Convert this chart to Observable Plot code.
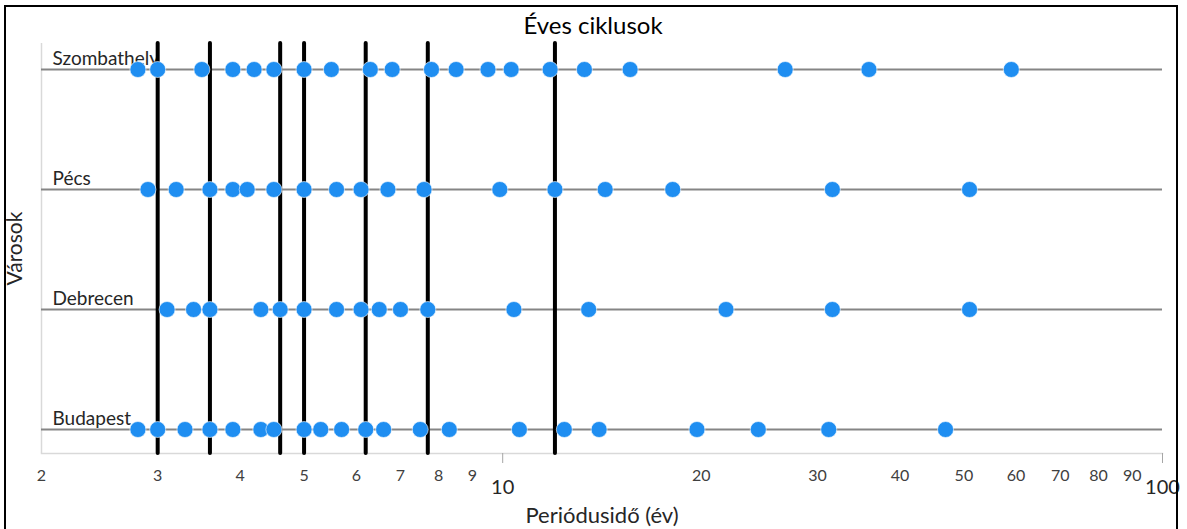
<!DOCTYPE html>
<html>
<head>
<meta charset="utf-8">
<script src="https://cdn.jsdelivr.net/npm/d3@7"></script>
<script src="https://cdn.jsdelivr.net/npm/@observablehq/plot@0.6"></script>
<style>
  html, body { margin: 0; padding: 0; background: #fff; overflow: hidden; }
  #wrap { position: relative; width: 1187px; height: 529px; }
  #border { position: absolute; left: 4px; top: 5px; width: 1174px; height: 540px; border: 2px solid #000; box-sizing: border-box; pointer-events: none; }
  #chart { position: absolute; left: 0; top: 0; }
</style>
</head>
<body>
<div id="wrap">
  <div id="chart"></div>
  <div id="border"></div>
</div>
<script>
// Cities, top to bottom
const cities = ["Szombathely", "Pécs", "Debrecen", "Budapest"];

// Detected cycle periods (years) for each city
const szombathely = [2.8, 3.0, 3.5, 3.9, 4.2, 4.5, 5.0, 5.5, 6.3, 6.8, 7.8, 8.5, 9.5, 10.3, 11.8, 13.3, 15.6, 26.8, 35.9, 59.0];
const pecs = [2.9, 3.2, 3.6, 3.9, 4.1, 4.5, 5.0, 5.6, 6.1, 6.7, 7.6, 9.9, 12.0, 14.3, 18.1, 31.6, 51.0];
const debrecen = [3.1, 3.4, 3.6, 4.3, 4.6, 5.0, 5.6, 6.1, 6.5, 7.0, 7.7, 10.4, 13.5, 21.8, 31.6, 51.0];
const budapest = [2.8, 3.0, 3.3, 3.6, 3.9, 4.3, 4.5, 5.0, 5.3, 5.7, 6.2, 6.6, 7.5, 8.3, 10.6, 12.4, 14.0, 19.7, 24.4, 31.2, 46.9];

// Cycles common to all cities (vertical reference lines)
const commonCycles = [3.0, 3.6, 4.6, 5.0, 6.2, 7.7, 12.0];

// Axis tick labels
const minorTicks = [2, 3, 4, 5, 6, 7, 8, 9, 20, 30, 40, 50, 60, 70, 80, 90];
const decadeTicks = [10, 100];

const seriesByCity = {
  "Szombathely": szombathely,
  "Pécs": pecs,
  "Debrecen": debrecen,
  "Budapest": budapest
};
const points = cities.flatMap(city => seriesByCity[city].map(period => ({city, period})));

const chart = Plot.plot({
  width: 1187,
  height: 529,
  marginLeft: 41,
  marginRight: 25,
  marginTop: 43,
  marginBottom: 76,
  style: {fontFamily: "Lato, 'Open Sans', sans-serif", background: "transparent", color: "#262626"},
  x: {type: "log", domain: [2, 100]},
  y: {type: "point", domain: cities, range: [68, 429], padding: 0, axis: null},
  marks: [
    // plot area edges
    Plot.ruleX([2], {stroke: "#d9d9d9", strokeWidth: 1.5}),
    Plot.frame({anchor: "bottom", stroke: "#d9d9d9", strokeWidth: 1.5}),
    // one baseline per city
    Plot.ruleY(cities, {y: d => d, stroke: "#858585", strokeWidth: 2}),
    Plot.text(cities, {x: () => 2, y: d => d, text: d => d, textAnchor: "start", dx: 11, dy: -11, fontSize: 19, fill: "#262626"}),
    // shared cycles
    Plot.ruleX(commonCycles, {stroke: "#000", strokeWidth: 4, strokeLinecap: "round"}),
    // per-city cycles
    Plot.dot(points, {x: "period", y: "city", r: 8, fill: "#1f8ef1", stroke: "#fff", strokeWidth: 0.6}),
    // x axis: tick marks at decades, labels for every tick
    Plot.axisX(decadeTicks, {tickSize: 10, tickFormat: () => "", label: null, stroke: "#a6a6a6"}),
    Plot.text(minorTicks, {x: d => d, frameAnchor: "bottom", lineAnchor: "middle", dy: 22, fontSize: 16, fill: "#404040", text: d => String(d)}),
    Plot.text(decadeTicks, {x: d => d, frameAnchor: "bottom", lineAnchor: "middle", dy: 34, fontSize: 20, fill: "#262626", text: d => String(d)}),
    // titles
    Plot.text(["Éves ciklusok"], {frameAnchor: "top", lineAnchor: "middle", dx: -9, dy: -17, fontSize: 24, fill: "#000"}),
    Plot.text(["Periódusidő (év)"], {frameAnchor: "bottom", lineAnchor: "middle", dy: 62, fontSize: 22, fill: "#262626"}),
    Plot.text(["Városok"], {frameAnchor: "left", textAnchor: "middle", lineAnchor: "middle", dx: -26, rotate: -90, fontSize: 21, fill: "#262626"})
  ]
});
document.getElementById("chart").append(chart);
</script>
</body>
</html>
